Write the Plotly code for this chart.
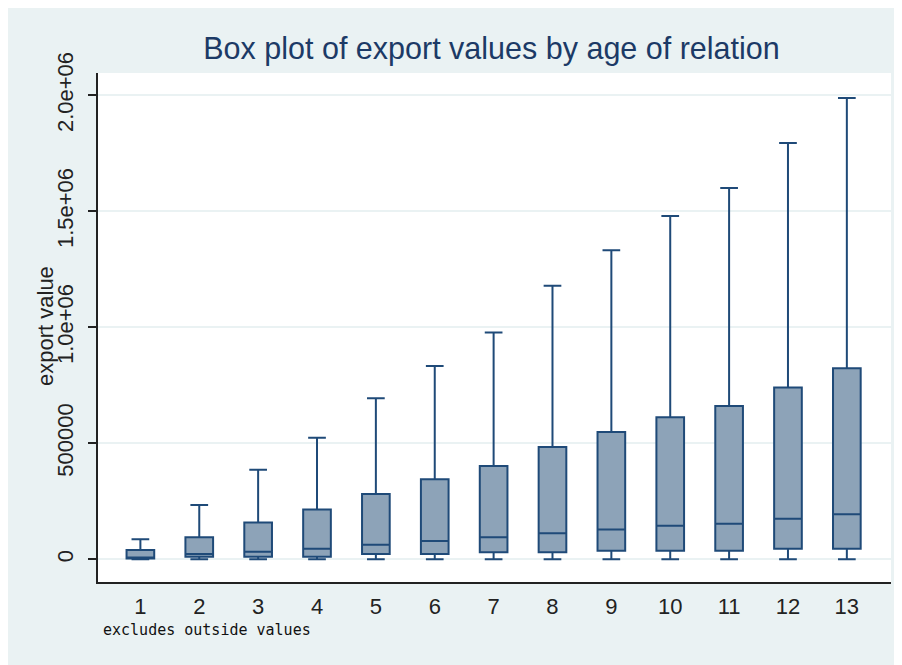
import plotly.graph_objects as go

# ---- data ----
ages = [1, 2, 3, 4, 5, 6, 7, 8, 9, 10, 11, 12, 13]
q1 = [4000, 11000, 11000, 11000, 23000, 23000, 30000, 30000, 37000, 37000, 37000, 46000, 46000]
median = [6000, 23000, 33000, 46000, 63000, 79000, 95000, 112000, 128000, 145000, 153000, 175000, 194000]
q3 = [40000, 95000, 159000, 215000, 281000, 345000, 402000, 484000, 549000, 612000, 661000, 741000, 823000]
lower = [0, 0, 0, 0, 0, 0, 0, 0, 0, 0, 0, 0, 0]
upper = [86000, 234000, 386000, 524000, 694000, 833000, 978000, 1179000, 1332000, 1480000, 1600000, 1794000, 1988000]
ytick_vals = [0, 500000, 1000000, 1500000, 2000000]
ytick_text = ["0", "500000", "1.0e+06", "1.5e+06", "2.0e+06"]
xtick_text = [str(a) for a in ages]

# the page body adds an 8px white margin on the left/top
W, H = 894, 657
ML, MR, MT, MB = 90, 11, 65, 83
PW, PH = W - ML - MR, H - MT - MB

BG = "#EAF2F3"
NAVY = "#1F4A78"
FILL = "#8DA3B8"
TXT = "#222222"

fig = go.Figure()
fig.add_trace(go.Box(
    x=ages, q1=q1, median=median, q3=q3,
    lowerfence=lower, upperfence=upper,
    boxpoints=False, width=0.47, whiskerwidth=0.64,
    fillcolor=FILL, line=dict(color=NAVY, width=2),
    hoverinfo="skip", showlegend=False,
))

def px_x(p):
    return (p - ML) / PW

def px_y(p):
    return (H - MB - p) / PH

fig.update_layout(
    width=W, height=H, autosize=False,
    margin=dict(l=ML, r=MR, t=MT, b=MB, pad=0),
    paper_bgcolor=BG, plot_bgcolor="white",
    font=dict(family="Liberation Sans, Arial, sans-serif", color=TXT, size=22),
    title=dict(text="Box plot of export values by age of relation",
               x=px_x(483.5), xref="paper", xanchor="center",
               y=1 - 40 / H, yref="container", yanchor="middle",
               font=dict(size=30.5, color="#1C3A66", family="Liberation Sans, Arial, sans-serif")),
    annotations=[
        dict(text="excludes outside values", xref="paper", yref="paper",
             x=px_x(93), y=px_y(622), xanchor="left", yanchor="middle",
             showarrow=False,
             font=dict(family="DejaVu Sans Mono, monospace", size=15, color="#111111")),
        dict(text="export value", xref="paper", yref="paper",
             x=px_x(37), y=px_y(318), xanchor="center", yanchor="middle",
             textangle=-90, showarrow=False,
             font=dict(size=22, color=TXT)),
    ],
    xaxis=dict(range=[0.28, 13.75], tickvals=ages, ticktext=xtick_text,
               showgrid=False, zeroline=False, showline=True, linecolor=TXT, linewidth=2,
               ticks="", ticklabelstandoff=4, tickfont=dict(size=22, color=TXT)),
    yaxis=dict(range=[-97800, 2096000], tickvals=ytick_vals, ticktext=ytick_text,
               tickangle=-90, showgrid=True, gridcolor=BG, gridwidth=1.5,
               zeroline=False, showline=True, linecolor=TXT, linewidth=2,
               ticks="outside", ticklen=8, tickwidth=1.5, tickcolor=TXT,
               ticklabelstandoff=6,
               tickfont=dict(size=22, color=TXT)),
)

fig.write_html("out.html")
